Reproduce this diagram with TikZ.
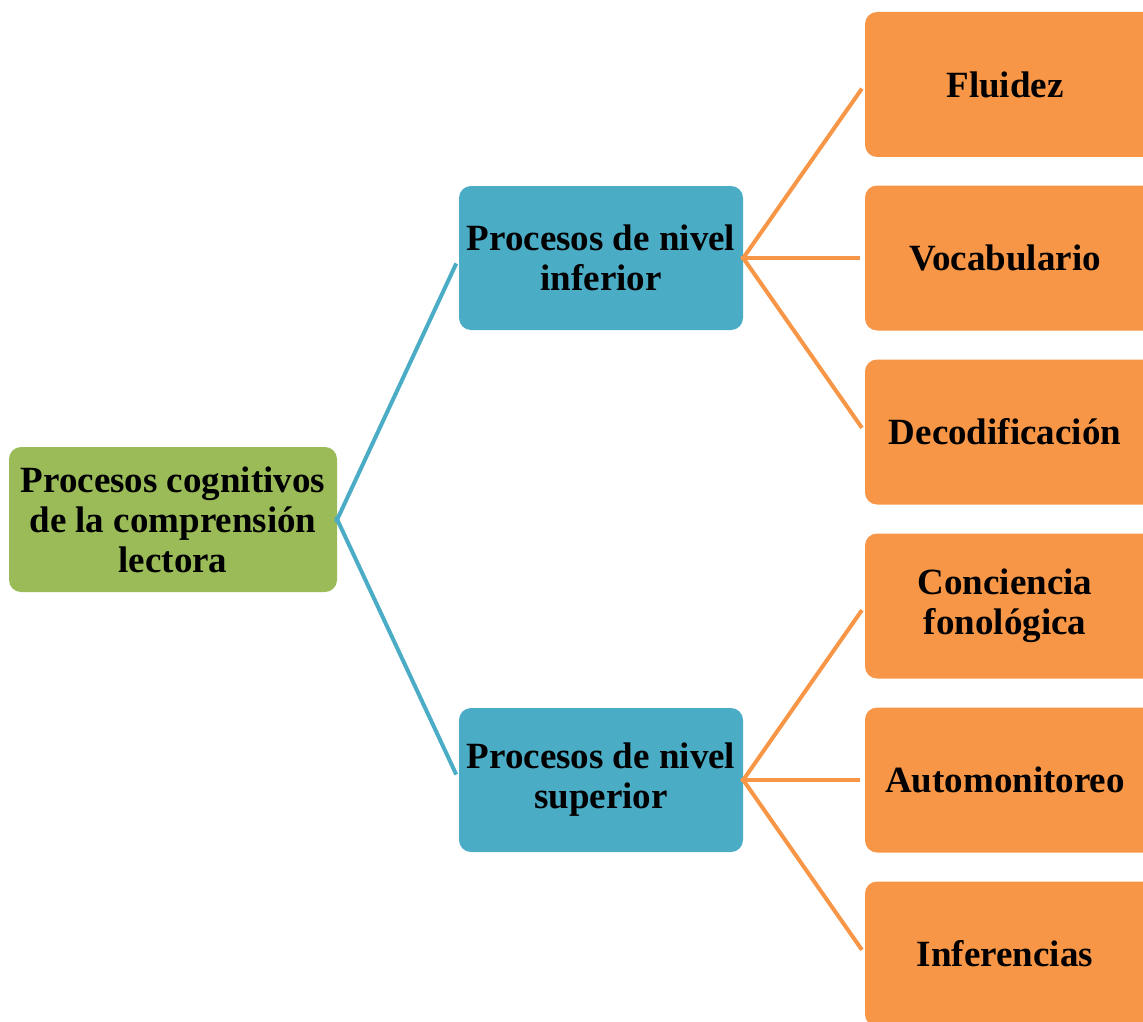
\documentclass[tikz,border=0pt]{standalone}
\usepackage{fontspec}
\setmainfont{Liberation Serif}
\definecolor{cgreen}{HTML}{9BBB59}
\definecolor{cblue}{HTML}{4BACC6}
\definecolor{corange}{HTML}{F79646}
\begin{document}
\begin{tikzpicture}[x=1pt,y=-1pt,
  txt/.style={align=center, inner sep=0pt, font=\fontsize{37}{40}\selectfont\bfseries, text=black},
  box/.style={rectangle, rounded corners=12pt, inner sep=0pt, txt},
  rootbox/.style={box, fill=cgreen, minimum width=328pt, minimum height=145pt},
  midbox/.style={box, fill=cblue, minimum width=284pt, minimum height=144pt},
  leafbox/.style={box, fill=corange, minimum width=300pt, minimum height=145pt,
    label={[txt, xshift=-10pt]center:#1}},
  blueline/.style={draw=cblue, line width=4pt, shorten <=-3pt, shorten >=6pt},
  orangeline/.style={draw=corange, line width=4pt, shorten <=-2pt, shorten >=5pt}]
\useasboundingbox (0,0) rectangle (1143,1022);
\node[rootbox] (root) at (173,519.5) {Procesos cognitivos\\de la comprensión\\lectora};
\node[midbox] (inf) at (601,258) {Procesos de nivel\\inferior};
\node[midbox] (sup) at (601,780) {Procesos de nivel\\superior};
\node[leafbox={Fluidez}] (flu) at (1015,84.5) {};
\node[leafbox={Vocabulario}] (voc) at (1015,258) {};
\node[leafbox={Decodificación}] (dec) at (1015,432) {};
\node[leafbox={Conciencia\\fonológica}] (con) at (1015,606) {};
\node[leafbox={Automonitoreo}] (aut) at (1015,780) {};
\node[leafbox={Inferencias}] (infe) at (1015,954) {};
\draw[blueline] (root.east) -- (inf.west);
\draw[blueline] (root.east) -- (sup.west);
\draw[orangeline] (inf.east) -- (flu.west);
\draw[orangeline] (inf.east) -- (voc.west);
\draw[orangeline] (inf.east) -- (dec.west);
\draw[orangeline] (sup.east) -- (con.west);
\draw[orangeline] (sup.east) -- (aut.west);
\draw[orangeline] (sup.east) -- (infe.west);
\end{tikzpicture}
\end{document}
